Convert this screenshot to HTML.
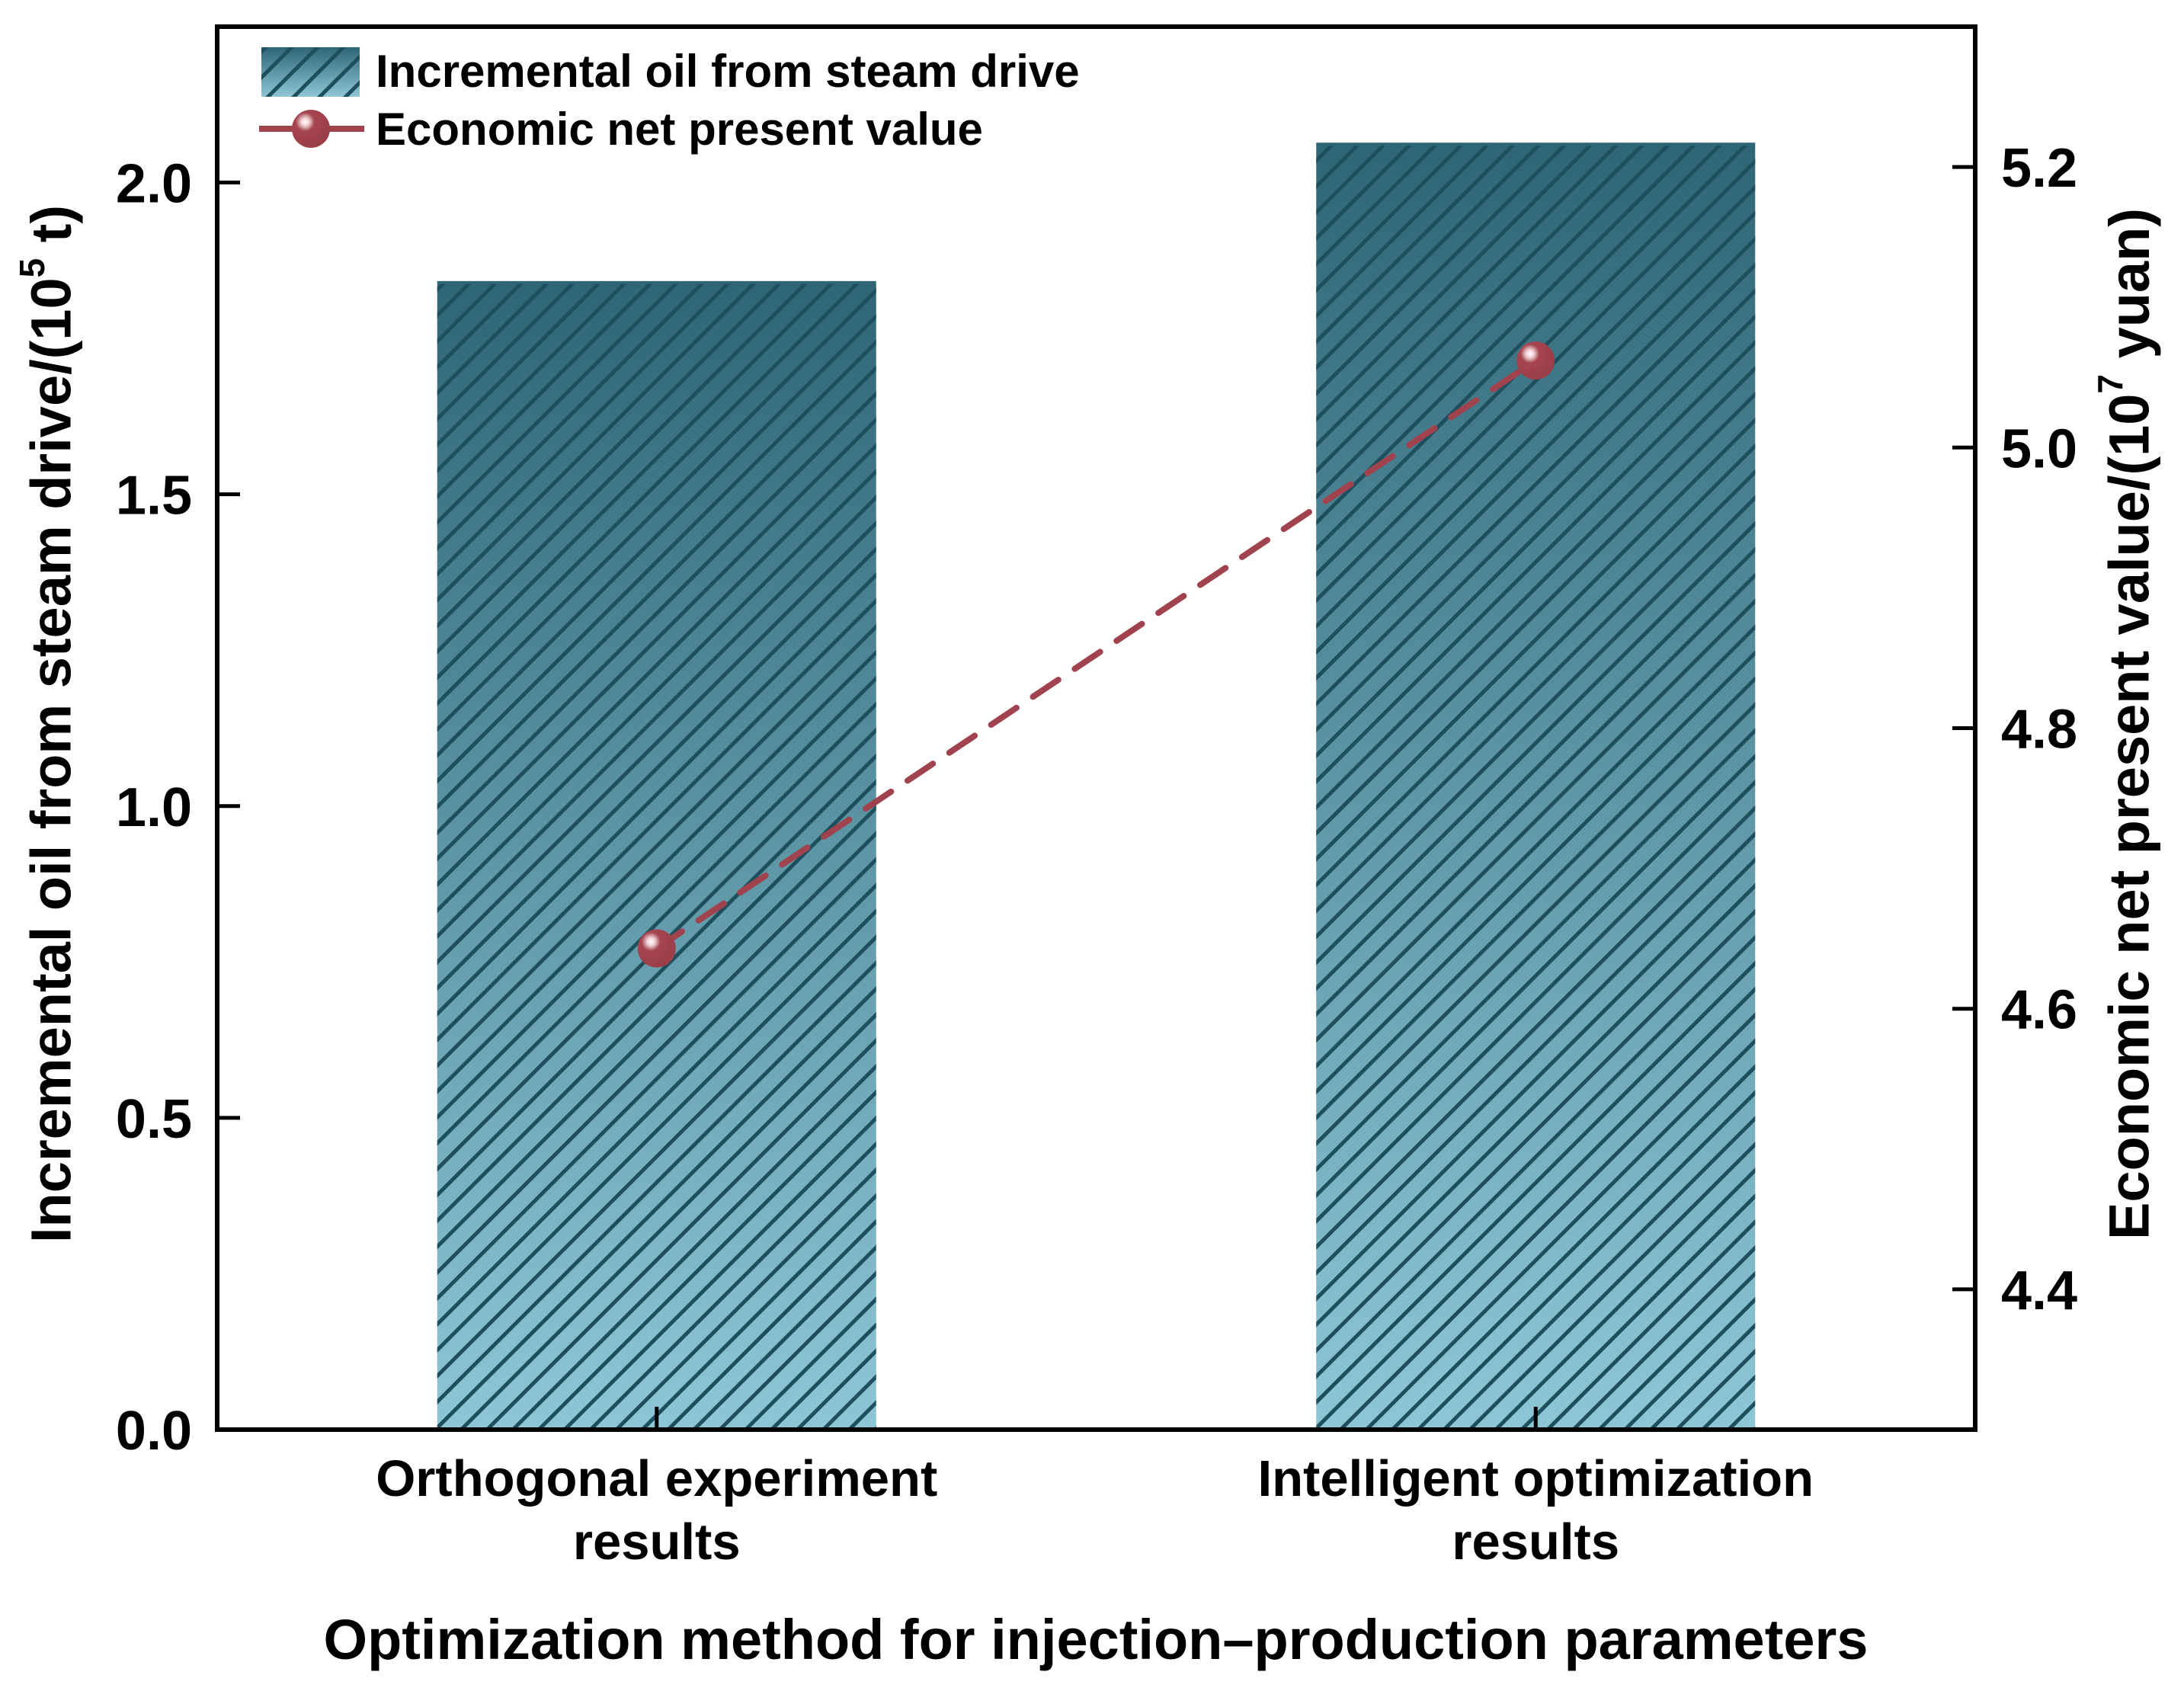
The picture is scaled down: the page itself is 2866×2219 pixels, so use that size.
<!DOCTYPE html>
<html><head><meta charset="utf-8">
<style>
html,body{margin:0;padding:0;background:#fff;}
svg{display:block;font-family:"Liberation Sans",Arial,sans-serif;font-weight:bold;}
</style></head>
<body>
<svg id="chart" width="2866" height="2219" viewBox="0 0 2866 2219" xmlns="http://www.w3.org/2000/svg">
<defs>
<linearGradient id="barGrad" x1="0" y1="0" x2="0" y2="1">
<stop offset="0" stop-color="#2e6676"/>
<stop offset="1" stop-color="#8dc6d5"/>
</linearGradient>
<pattern id="hatch" patternUnits="userSpaceOnUse" width="24" height="24" patternTransform="rotate(45)">
<rect x="0" y="0" width="5" height="24" fill="#1f4f5d"/>
</pattern>
<radialGradient id="ball" cx="0.35" cy="0.32" r="0.7">
<stop offset="0" stop-color="#ffffff"/>
<stop offset="0.15" stop-color="#f0d0d4"/>
<stop offset="0.35" stop-color="#a54550"/>
<stop offset="1" stop-color="#9a3e48"/>
</radialGradient>
</defs>
<g id="marks"></g>
<g id="axes"></g>
<text x="73" y="950" font-size="74" text-anchor="middle" transform="rotate(-90 73 950)" dominant-baseline="middle">Incremental oil from steam drive/(10<tspan font-size="46" dy="-27">5</tspan><tspan dy="27"> t)</tspan></text>
<text x="2800" y="950" font-size="74" text-anchor="middle" transform="rotate(-90 2800 950)" dominant-baseline="middle">Economic net present value/(10<tspan font-size="46" dy="-27">7</tspan><tspan dy="27"> yuan)</tspan></text>
<text x="1438" y="2177" font-size="74" text-anchor="middle">Optimization method for injection–production parameters</text>
<g>
<rect x="343" y="62" width="129" height="65" fill="url(#barGrad)"/>
<rect x="343" y="62" width="129" height="65" fill="url(#hatch)"/>
<text x="493" y="114" font-size="60">Incremental oil from steam drive</text>
<line x1="340" y1="169" x2="478" y2="169" stroke="#a0434f" stroke-width="8"/>
<circle cx="408" cy="169" r="25" fill="url(#ball)"/>
<text x="493" y="190" font-size="60">Economic net present value</text>
</g>
</svg>
<script>
const categories = ["Orthogonal experiment|results", "Intelligent optimization|results"];
const oilValues = [1.842, 2.064];
const npvValues = [4.643, 5.062];
const leftTicks = ["0.0","0.5","1.0","1.5","2.0"];
const rightTicks = ["4.4","4.6","4.8","5.0","5.2"];

const NS = "http://www.w3.org/2000/svg";
const X0 = 285, X1 = 2592, Y0 = 1876, Y1 = 35;
const yL = v => Y0 - (v - 0) / (2.25 - 0) * (Y0 - Y1);
const yR = v => Y0 - (v - 4.3) / (5.3 - 4.3) * (Y0 - Y1);
const xC = i => X0 + (X1 - X0) * (i + 0.5) / categories.length;
const barW = 576;
function mk(tag, attrs, parent){const e=document.createElementNS(NS,tag);for(const k in attrs)e.setAttribute(k,attrs[k]);parent.appendChild(e);return e;}
const marks = document.getElementById('marks');
const axes = document.getElementById('axes');

oilValues.forEach((v,i)=>{
  const x = xC(i)-barW/2, y = yL(v), h = Y0-y;
  const r = mk('rect',{x:x,y:y,width:barW,height:h,fill:'url(#barGrad)'},marks);
  
  
  const hh = mk('rect',{x:x,y:y+4,width:barW,height:h-4,fill:'url(#hatch)'},marks);
  
  
});

let d = npvValues.map((v,i)=>(i?'L':'M')+xC(i)+' '+yR(v)).join(' ');
const ln = mk('path',{d:d,fill:'none',stroke:'#a0434f','stroke-width':8,'stroke-dasharray':'40 26','stroke-linecap':'round'},marks);


npvValues.forEach((v,i)=>{
  const c = mk('circle',{cx:xC(i),cy:yR(v),r:25,fill:'url(#ball)'},marks);
  
  
});

const frame = mk('rect',{x:X0,y:Y1,width:X1-X0,height:Y0-Y1,fill:'none',stroke:'#000','stroke-width':6},axes);



leftTicks.forEach(t=>{
  const y = yL(parseFloat(t));
  const l = mk('line',{x1:X0,y1:y,x2:X0+30,y2:y,stroke:'#000','stroke-width':5},axes);
  
  
  const tx = mk('text',{x:252,y:y+26,'font-size':72,'text-anchor':'end'},axes);
  tx.textContent = t;
  
  
});
rightTicks.forEach(t=>{
  const y = yR(parseFloat(t));
  const l = mk('line',{x1:X1-30,y1:y,x2:X1,y2:y,stroke:'#000','stroke-width':5},axes);
  
  
  const tx = mk('text',{x:2626,y:y+26,'font-size':72,'text-anchor':'start'},axes);
  tx.textContent = t;
  
  
});
categories.forEach((c,i)=>{
  const x = xC(i);
  const l = mk('line',{x1:x,y1:Y0-30,x2:x,y2:Y0,stroke:'#000','stroke-width':5},axes);
  
  
  const parts = c.split('|');
  parts.forEach((p,j)=>{
    const tx = mk('text',{x:x,y:1963+j*83,'font-size':67,'text-anchor':'middle'},axes);
    tx.textContent = p;
    
    
  });
});
</script>
</body></html>
